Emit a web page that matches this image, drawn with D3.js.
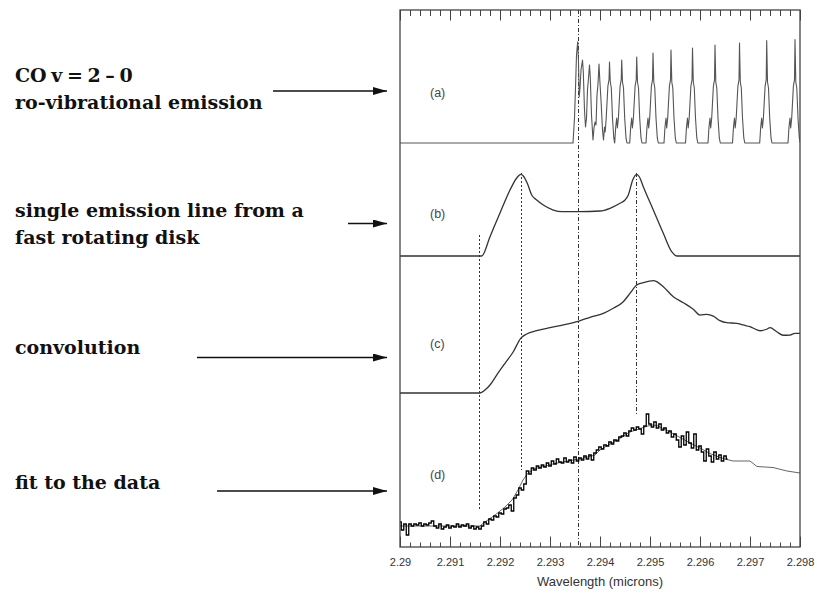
<!DOCTYPE html>
<html>
<head>
<meta charset="utf-8">
<script src="https://cdn.jsdelivr.net/npm/d3@7"></script>
<style>
  html, body { margin: 0; padding: 0; background: #fff; }
  svg { display: block; }
</style>
</head>
<body>
<svg id="chart" width="817" height="595"></svg>
<script>
// ---------------- data ----------------

// Wavelength axis (microns)
const waveDomain = [2.29, 2.298];
const tickLabels = [2.29, 2.291, 2.292, 2.293, 2.294, 2.295, 2.296, 2.297, 2.298];

// (a) CO v=2-0 ro-vibrational band: [wavelength, relative intensity]
const coBandSpectrum = [
  [2.29, 0], [2.29346, 0], [2.29349, 0.243], [2.29351, 0.534], [2.29353, 0.854],
  [2.293554, 0.983], [2.29357, 0.786], [2.293584, 0.447], [2.2936, 0.534], [2.29362, 0.709],
  [2.29365, 0.806], [2.293666, 0.689], [2.29369, 0.320], [2.29371, 0.155], [2.29373, 0.243],
  [2.29375, 0.515], [2.29377, 0.631], [2.29379, 0.757], [2.293806, 0.631], [2.29383, 0.272],
  [2.29386, 0.029], [2.29388, 0.146], [2.2939, 0.204], [2.29392, 0.175], [2.29394, 0.466],
  [2.29396, 0.573], [2.29398, 0.767], [2.293996, 0.612], [2.29402, 0.417], [2.29405, 0.126],
  [2.29407, 0.029],
  [2.29409, 0.155], [2.294104, 0.107], [2.294124, 0.243], [2.294158, 0.553], [2.29418, 0.612],
  [2.29419, 0.786], [2.294206, 0.592], [2.294226, 0.534], [2.29425, 0.243], [2.294276, 0.049],
  [2.294292, 0],
  [2.294294, 0], [2.294314, 0.155], [2.294334, 0.243], [2.294348, 0.146], [2.294368, 0.243],
  [2.294402, 0.553], [2.294424, 0.612], [2.294434, 0.806], [2.29445, 0.592], [2.29447, 0.534],
  [2.294494, 0.243], [2.29452, 0.049], [2.29454, 0],
  [2.294594, 0], [2.294614, 0.155], [2.294634, 0.243], [2.294648, 0.146], [2.294668, 0.243],
  [2.294702, 0.553], [2.294724, 0.612], [2.294734, 0.835], [2.29475, 0.592], [2.29477, 0.534],
  [2.294794, 0.243], [2.29482, 0.049], [2.29484, 0],
  [2.29492, 0], [2.29494, 0.155], [2.29496, 0.243], [2.294974, 0.146], [2.294994, 0.243],
  [2.295028, 0.553], [2.29505, 0.612], [2.29506, 0.874], [2.295076, 0.592], [2.295096, 0.534],
  [2.29512, 0.243], [2.295146, 0.049], [2.295166, 0],
  [2.29528, 0], [2.2953, 0.155], [2.29532, 0.243], [2.295334, 0.146], [2.295354, 0.243],
  [2.295388, 0.553], [2.29541, 0.612], [2.29542, 0.903], [2.295436, 0.592], [2.295456, 0.534],
  [2.29548, 0.243], [2.295506, 0.049], [2.295526, 0],
  [2.29571, 0], [2.29573, 0.155], [2.29575, 0.243], [2.295764, 0.146], [2.295784, 0.243],
  [2.295818, 0.553], [2.29584, 0.612], [2.29585, 0.922], [2.295866, 0.592], [2.295886, 0.534],
  [2.29591, 0.243], [2.295936, 0.049], [2.295956, 0],
  [2.29616, 0], [2.29618, 0.155], [2.2962, 0.243], [2.296214, 0.146], [2.296234, 0.243],
  [2.296268, 0.553], [2.29629, 0.612], [2.2963, 0.951], [2.296316, 0.592], [2.296336, 0.534],
  [2.29636, 0.243], [2.296386, 0.049], [2.296406, 0],
  [2.29665, 0], [2.29667, 0.155], [2.29669, 0.243], [2.296704, 0.146], [2.296724, 0.243],
  [2.296758, 0.553], [2.29678, 0.612], [2.29679, 0.971], [2.296806, 0.592], [2.296826, 0.534],
  [2.29685, 0.243], [2.296876, 0.049], [2.296896, 0],
  [2.297194, 0], [2.297214, 0.155], [2.297234, 0.243], [2.297248, 0.146], [2.297268, 0.243],
  [2.297302, 0.553], [2.297324, 0.612], [2.297334, 0.995], [2.29735, 0.592], [2.29737, 0.534],
  [2.297394, 0.243], [2.29742, 0.049], [2.29744, 0],
  [2.29776, 0], [2.29778, 0.155], [2.2978, 0.243], [2.297814, 0.146], [2.297834, 0.243],
  [2.297868, 0.553], [2.29789, 0.612], [2.2979, 1.005], [2.297916, 0.592], [2.297936, 0.534],
  [2.29796, 0.243], [2.297986, 0.049], [2.298006, 0]
];

// (b) double-peaked line profile of a single line from a rotating disk
const diskProfile = [
  [2.29, 0], [2.291634, 0], [2.2918, 0.233], [2.292, 0.518], [2.2922, 0.795],
  [2.292334, 0.940], [2.292414, 0.984], [2.292466, 0.964], [2.292546, 0.876], [2.292634, 0.735],
  [2.292734, 0.675], [2.292866, 0.614], [2.293066, 0.554], [2.293234, 0.534], [2.29358, 0.534],
  [2.294, 0.542], [2.2942, 0.575], [2.2944, 0.635], [2.2945, 0.675], [2.294566, 0.735],
  [2.294654, 0.916], [2.294734, 0.984], [2.294786, 0.955], [2.294866, 0.835], [2.295066, 0.554],
  [2.295266, 0.273], [2.295434, 0.052], [2.295534, 0], [2.298, 0]
];

// (c) band convolved with the disk profile
const convolvedSpectrum = [
  [2.29, 0], [2.2916, 0], [2.2917, 0.027], [2.2918, 0.071], [2.291934, 0.159],
  [2.2921, 0.263], [2.292266, 0.365], [2.292414, 0.484], [2.292534, 0.522], [2.292734, 0.551],
  [2.293, 0.578], [2.293266, 0.602], [2.29358, 0.637], [2.2938, 0.670], [2.294066, 0.705],
  [2.294266, 0.750], [2.294466, 0.808], [2.2946, 0.882], [2.294734, 0.956], [2.294866, 0.976],
  [2.295066, 0.994], [2.295134, 0.985], [2.295266, 0.941], [2.295466, 0.852], [2.295666, 0.799],
  [2.295866, 0.741], [2.296, 0.690], [2.296134, 0.696], [2.296266, 0.681], [2.2964, 0.640],
  [2.296534, 0.622], [2.296734, 0.617], [2.296866, 0.602], [2.297, 0.587], [2.2972, 0.551],
  [2.297334, 0.564], [2.2974, 0.578], [2.297534, 0.542], [2.297666, 0.511], [2.2978, 0.513],
  [2.2979, 0.528], [2.298, 0.528]
];

// (d) model fit, continuum-normalised flux
const modelFit = [
  [2.29, 1.00], [2.2916, 1.00], [2.2917, 1.04], [2.2919, 1.11], [2.2921, 1.19],
  [2.29224, 1.26], [2.29236, 1.36], [2.29246, 1.46], [2.29256, 1.53], [2.2927, 1.575],
  [2.2929, 1.60], [2.2931, 1.625], [2.29336, 1.65], [2.29364, 1.675], [2.2939, 1.71],
  [2.294, 1.76], [2.2942, 1.82], [2.2944, 1.875], [2.2946, 1.94], [2.2948, 1.975],
  [2.29496, 2.00], [2.29504, 2.01], [2.29514, 2.005], [2.29526, 1.975], [2.2954, 1.94],
  [2.2956, 1.885], [2.2958, 1.83], [2.296, 1.78], [2.2962, 1.725], [2.2964, 1.685],
  [2.29654, 1.665], [2.29666, 1.65], [2.297, 1.65], [2.29714, 1.595], [2.29746, 1.585],
  [2.29774, 1.55], [2.298, 1.53]
];

// (d) observed spectrum, sampled on a regular wavelength grid
const obsStart = 2.29;
const obsStep = 0.00005;
const obsFlux = [
  1.04, 0.96, 1.02, 0.91, 1.02, 1.00, 1.02, 1.01, 1.03, 1.00,
  1.02, 1.01, 1.03, 1.05, 1.00, 0.98, 1.02, 0.97, 0.99, 1.01,
  0.98, 1.00, 0.99, 1.02, 0.99, 1.01, 1.00, 1.02, 0.98, 1.00,
  0.97, 0.99, 0.97, 1.00, 1.04, 1.02, 1.07, 1.06, 1.10, 1.09,
  1.13, 1.12, 1.17, 1.18, 1.21, 1.15, 1.28, 1.31, 1.38, 1.36,
  1.42, 1.55, 1.52, 1.58, 1.56, 1.60, 1.58, 1.61, 1.59, 1.63,
  1.60, 1.65, 1.62, 1.67, 1.64, 1.63, 1.68, 1.64, 1.66, 1.63,
  1.69, 1.65, 1.68, 1.66, 1.70, 1.67, 1.71, 1.66, 1.73, 1.76,
  1.79, 1.77, 1.81, 1.80, 1.84, 1.82, 1.86, 1.85, 1.89, 1.90,
  1.93, 1.90, 1.95, 1.98, 1.96, 1.99, 1.97, 1.92, 2.00, 2.12,
  2.02, 1.99, 2.04, 1.98, 2.02, 1.96, 1.98, 1.93, 1.95, 1.89,
  1.92, 1.86, 1.79, 1.90, 1.81, 1.94, 1.83, 1.78, 1.92, 1.76,
  1.80, 1.74, 1.65, 1.77, 1.70, 1.64, 1.74, 1.67, 1.71, 1.65,
  1.70, 1.67
];

// Reference wavelengths marked by vertical guide lines
const guideWaves = [2.29159, 2.29243, 2.29357, 2.29473];

// Panel tags and side annotations
const panelTags = ["(a)", "(b)", "(c)", "(d)"];
const annotations = [
  ["CO v = 2 \u2013 0", "ro-vibrational emission"],
  ["single emission line from a", "fast rotating disk"],
  ["convolution"],
  ["fit to the data"]
];
const axisTitle = "Wavelength (microns)";

// ---------------- layout ----------------
const frame = { left: 400, right: 800, top: 10, bottom: 547 };
const panelRanges = [[143, 40], [256, 173], [393, 280], [526, 426]];
const panelDomains = [[0, 1], [0, 1], [0, 1], [1, 2]];
const tagBaselines = [96.5, 217.5, 348, 479];
const guideExtents = [[235, 509], [173, 470], [10, 547], [173, 415]];
const guideDash = ["2,2", "2,2", "4,2,1,2", "4,2,1,2"];
const annotationBaselines = [[81.7, 108.5], [216.7, 244], [354], [489.3]];
const arrowSpecs = [[273, 91], [348, 223.5], [197, 357.5], [217, 491]];
const arrowTip = 387;

// ---------------- drawing ----------------
const svg = d3.select("#chart");

const x = d3.scaleLinear().domain(waveDomain).range([frame.left, frame.right]);
const ys = panelDomains.map((d, i) => d3.scaleLinear().domain(d).range(panelRanges[i]));

svg.append("defs").append("clipPath").attr("id", "plotClip")
  .append("rect")
  .attr("x", frame.left).attr("y", frame.top)
  .attr("width", frame.right - frame.left)
  .attr("height", frame.bottom - frame.top);

const plot = svg.append("g").attr("clip-path", "url(#plotClip)");

// vertical guide lines
plot.selectAll("line.guide")
  .data(guideWaves)
  .join("line")
  .attr("class", "guide")
  .attr("x1", d => x(d)).attr("x2", d => x(d))
  .attr("y1", (d, i) => guideExtents[i][0])
  .attr("y2", (d, i) => guideExtents[i][1])
  .attr("stroke", "#333")
  .attr("stroke-width", 1)
  .attr("stroke-dasharray", (d, i) => guideDash[i]);

const lineFor = (yScale, curve) => d3.line()
  .x(d => x(d[0]))
  .y(d => yScale(d[1]))
  .curve(curve || d3.curveLinear);

// (a)
plot.append("path")
  .datum(coBandSpectrum)
  .attr("d", lineFor(ys[0]))
  .attr("fill", "none")
  .attr("stroke", "#555")
  .attr("stroke-width", 1.1)
  .attr("stroke-linejoin", "round");

// (b)
plot.append("path")
  .datum(diskProfile)
  .attr("d", lineFor(ys[1], d3.curveMonotoneX))
  .attr("fill", "none")
  .attr("stroke", "#333")
  .attr("stroke-width", 1.3);

// (c)
plot.append("path")
  .datum(convolvedSpectrum)
  .attr("d", lineFor(ys[2], d3.curveMonotoneX))
  .attr("fill", "none")
  .attr("stroke", "#333")
  .attr("stroke-width", 1.3);

// (d) model
plot.append("path")
  .datum(modelFit)
  .attr("d", lineFor(ys[3]))
  .attr("fill", "none")
  .attr("stroke", "#666")
  .attr("stroke-width", 1);

// (d) observed data
const obsPoints = obsFlux.map((f, i) => [obsStart + i * obsStep, f]);
plot.append("path")
  .datum(obsPoints)
  .attr("d", lineFor(ys[3], d3.curveStep))
  .attr("fill", "none")
  .attr("stroke", "#000")
  .attr("stroke-width", 1.3);

// panel tags
svg.selectAll("text.tag")
  .data(panelTags)
  .join("text")
  .attr("class", "tag")
  .attr("x", 430)
  .attr("y", (d, i) => tagBaselines[i])
  .attr("font-family", "'Liberation Sans', Arial, sans-serif")
  .attr("font-size", 12.5)
  .attr("fill", "#444")
  .text(d => d);

// frame
svg.append("rect")
  .attr("x", frame.left).attr("y", frame.top)
  .attr("width", frame.right - frame.left)
  .attr("height", frame.bottom - frame.top)
  .attr("fill", "none")
  .attr("stroke", "#444")
  .attr("stroke-width", 1.3);

// axes: major and minor ticks on top and bottom
const minorTicks = d3.range(0, 41).map(i => +(waveDomain[0] + i * 0.0002).toFixed(4));
const fmt = d => String(+d.toFixed(3));

function styleAxis(g) {
  g.select(".domain").remove();
  g.selectAll(".tick line").attr("stroke", "#444").attr("stroke-width", 1);
}

svg.append("g")
  .attr("transform", `translate(0,${frame.bottom})`)
  .call(d3.axisBottom(x).tickValues(minorTicks).tickSize(-4.5).tickFormat(""))
  .call(styleAxis);

svg.append("g")
  .attr("transform", `translate(0,${frame.top})`)
  .call(d3.axisTop(x).tickValues(minorTicks).tickSize(-6).tickFormat(""))
  .call(styleAxis);

svg.append("g")
  .attr("transform", `translate(0,${frame.top})`)
  .call(d3.axisTop(x).tickValues(tickLabels).tickSize(-10.5).tickFormat(""))
  .call(styleAxis);

const bottomAxis = svg.append("g")
  .attr("transform", `translate(0,${frame.bottom})`)
  .call(d3.axisBottom(x).tickValues(tickLabels).tickSize(-10.5).tickPadding(11).tickFormat(fmt))
  .call(styleAxis);

bottomAxis.selectAll(".tick text")
  .attr("font-family", "'Liberation Sans', Arial, sans-serif")
  .attr("font-size", 11)
  .attr("fill", "#333");

svg.append("text")
  .attr("x", (frame.left + frame.right) / 2)
  .attr("y", 586)
  .attr("text-anchor", "middle")
  .attr("font-family", "'Liberation Sans', Arial, sans-serif")
  .attr("font-size", 13)
  .attr("fill", "#333")
  .text(axisTitle);

// side annotations
annotations.forEach((lines, i) => {
  lines.forEach((t, j) => {
    svg.append("text")
      .attr("x", 15)
      .attr("y", annotationBaselines[i][j])
      .attr("font-family", "'DejaVu Serif', serif")
      .attr("font-weight", "bold")
      .attr("font-size", 19)
      .attr("word-spacing", i === 0 && j === 0 ? -2 : 0)
      .attr("fill", "#111")
      .text(t);
  });
});

// arrows
svg.append("defs").append("marker")
  .attr("id", "arrowHead")
  .attr("viewBox", "0 0 14 8")
  .attr("refX", 14).attr("refY", 4)
  .attr("markerWidth", 14).attr("markerHeight", 8)
  .attr("markerUnits", "userSpaceOnUse")
  .attr("orient", "auto")
  .append("path")
  .attr("d", "M0,0L14,4L0,8Z")
  .attr("fill", "#111");

svg.selectAll("line.arrow")
  .data(arrowSpecs)
  .join("line")
  .attr("class", "arrow")
  .attr("x1", d => d[0]).attr("y1", d => d[1])
  .attr("x2", arrowTip).attr("y2", d => d[1])
  .attr("stroke", "#111")
  .attr("stroke-width", 1.3)
  .attr("marker-end", "url(#arrowHead)");
</script>
</body>
</html>
